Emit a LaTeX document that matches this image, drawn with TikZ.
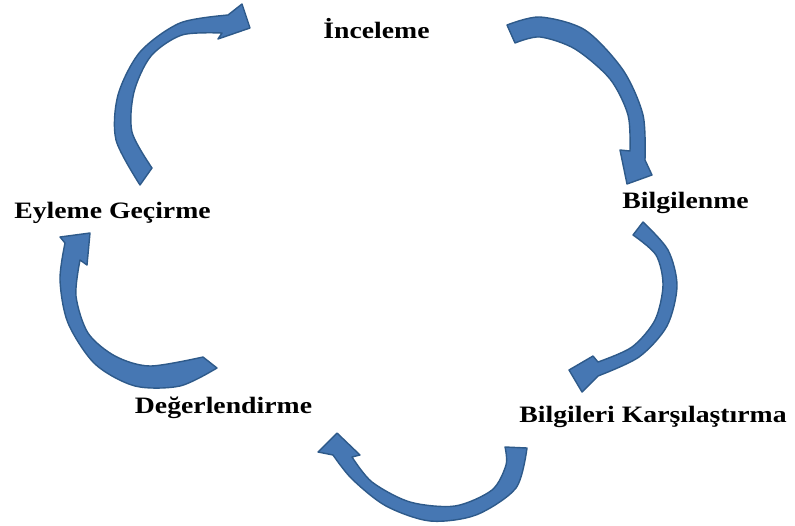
\documentclass[tikz,border=0pt]{standalone}
\usepackage{fontspec}
\setmainfont{Liberation Serif}
\newfontfamily\stagefont[FakeStretch=1.18]{Liberation Serif}
\usepackage{tikz}
\usetikzlibrary{positioning}
\definecolor{arrowblue}{HTML}{4677B3}
\definecolor{arrowedge}{HTML}{2E5A8A}

\tikzset{
  stage/.style={font=\stagefont\bfseries\fontsize{23.5}{28}\selectfont, inner sep=0pt, anchor=base},
  cyclearrow/.style={fill=arrowblue, draw=arrowedge, line width=1.4pt, line join=round}
}

\begin{document}
\begin{tikzpicture}[x=1pt, y=-1pt]
  \useasboundingbox (0,0) rectangle (795,525);
  % stages of the cycle
  \node[stage] (inceleme) at (376.5,38) {İnceleme};
  \node[stage] (bilgilenme) at (685.5,208) {Bilgilenme};
  \node[stage] (karsilastirma) at (653,422) {Bilgileri Karşılaştırma};
  \node[stage] (degerlendirme) at (223.5,413) {Değerlendirme};
  \node[stage] (eyleme) at (112.5,218) {Eyleme Geçirme};
  % curved block arrows
  \filldraw[cyclearrow]
    plot[smooth] coordinates {(140,185) (116,140) (118,95) (140,52) (180,23) (228,15)}
    -- (242,4) -- (250,28) -- (218,39)
    -- plot[smooth] coordinates {(222,33) (182,35) (151,56) (134,92) (132,132) (152,168)}
    -- cycle;
  \filldraw[cyclearrow]
    plot[smooth] coordinates {(507,25) (540,17) (585,30) (623,70) (643,115) (645,160)}
    -- (652,175) -- (627,184) -- (620,150)
    -- plot[smooth] coordinates {(630,151) (628,115) (610,79) (575,49) (540,37) (515,43)}
    -- cycle;
  \filldraw[cyclearrow]
    plot[smooth] coordinates {(643,222) (668,250) (677,286) (667,326) (639,357) (598,376)}
    -- (582,392) -- (569,370) -- (593,356)
    -- plot[smooth] coordinates {(598,362) (632,347) (655,320) (663,285) (656,255) (633,235)}
    -- cycle;
  \filldraw[cyclearrow]
    plot[smooth] coordinates {(527,448) (516,488) (476,515) (430,521) (386,506) (352,479) (333,455)}
    -- (318,452) -- (337,433) -- (360,455)
    -- plot[smooth] coordinates {(352,457) (372,482) (410,502) (455,506) (492,490) (506,465) (505,447)}
    -- cycle;
  \filldraw[cyclearrow]
    plot[smooth] coordinates {(217,368) (180,386) (135,386) (95,364) (68,323) (60,280) (65,243)}
    -- (60,237) -- (90,233) -- (87,265)
    -- plot[smooth] coordinates {(80,260) (76,296) (88,333) (115,356) (150,366) (203,357)}
    -- cycle;
\end{tikzpicture}
\end{document}
